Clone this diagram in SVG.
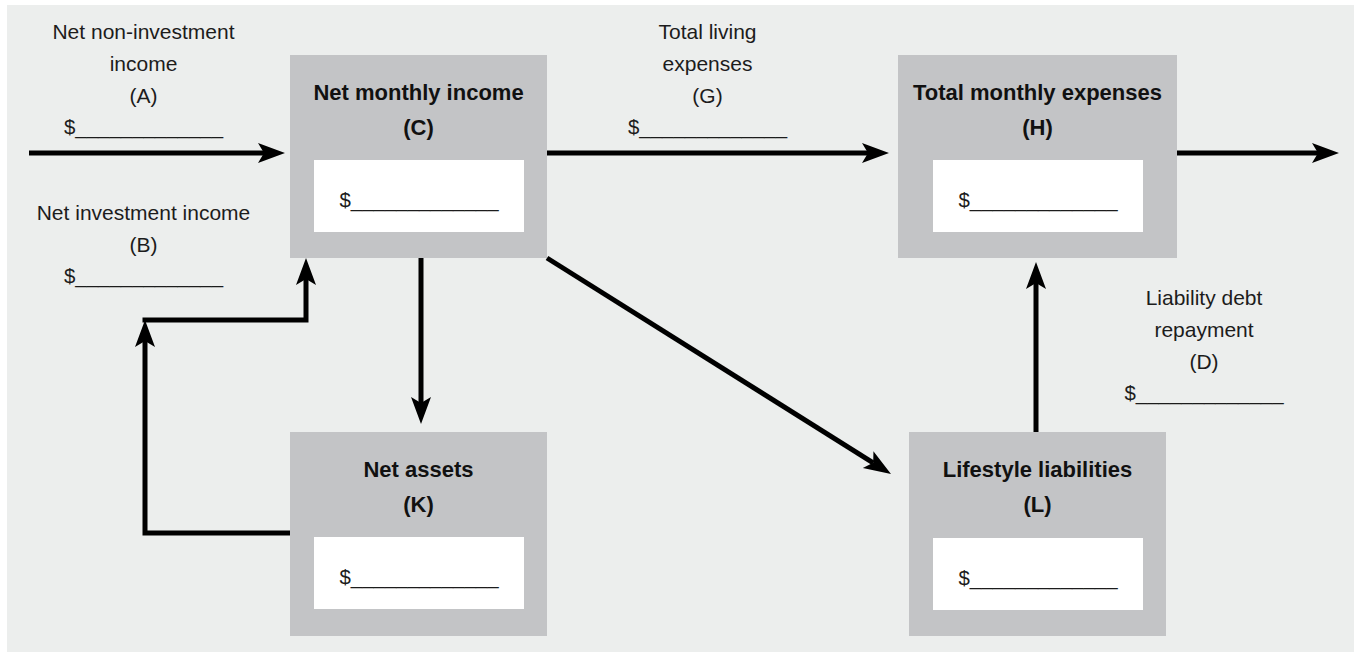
<svg xmlns="http://www.w3.org/2000/svg" width="1354" height="653" viewBox="0 0 1354 653">
<style>
.bg{fill:#ECEEED}
.box{fill:#C3C4C6}
.inner{fill:#FFFFFF}
.t{font-family:"Liberation Sans",Arial,sans-serif;font-size:21px;fill:#1c1c1c;text-anchor:middle}
.b{font-family:"Liberation Sans",Arial,sans-serif;font-size:22px;font-weight:bold;fill:#111;text-anchor:middle}
.c{fill:none;stroke:#000;stroke-width:5;stroke-linejoin:miter;stroke-linecap:butt}
</style>
<defs>
<marker id="ah" markerUnits="userSpaceOnUse" markerWidth="30" markerHeight="24" refX="6" refY="12" orient="auto" viewBox="0 0 30 24">
<path d="M0,2 L27,12 L0,22 L6,12 Z" fill="#000"/>
</marker>
</defs>
<rect class="bg" x="7" y="5" width="1347" height="647"/>

<g id="label-A">
<text class="t" x="143.5" y="39">Net non-investment</text>
<text class="t" x="143.5" y="71">income</text>
<text class="t" x="143.5" y="103">(A)</text>
<text class="t" x="143.5" y="134" textLength="159" lengthAdjust="spacingAndGlyphs">$_____________</text>
</g>
<g id="label-B">
<text class="t" x="143.5" y="220">Net investment income</text>
<text class="t" x="143.5" y="252">(B)</text>
<text class="t" x="143.5" y="283" textLength="159" lengthAdjust="spacingAndGlyphs">$_____________</text>
</g>
<g id="label-G">
<text class="t" x="707.5" y="39">Total living</text>
<text class="t" x="707.5" y="71">expenses</text>
<text class="t" x="707.5" y="103">(G)</text>
<text class="t" x="707.5" y="134" textLength="159" lengthAdjust="spacingAndGlyphs">$_____________</text>
</g>
<g id="label-D">
<text class="t" x="1204" y="305">Liability debt</text>
<text class="t" x="1204" y="337">repayment</text>
<text class="t" x="1204" y="369">(D)</text>
<text class="t" x="1204" y="400" textLength="159" lengthAdjust="spacingAndGlyphs">$_____________</text>
</g>

<g id="node-C">
<rect class="box" x="290" y="55" width="257" height="203"/>
<text class="b" x="418.5" y="100">Net monthly income</text>
<text class="b" x="418.5" y="135">(C)</text>
<rect class="inner" x="314" y="160" width="210" height="72"/>
<text class="t" x="419" y="207" textLength="159" lengthAdjust="spacingAndGlyphs">$_____________</text>
</g>
<g id="node-H">
<rect class="box" x="898" y="55" width="279" height="203"/>
<text class="b" x="1037.5" y="100">Total monthly expenses</text>
<text class="b" x="1037.5" y="135">(H)</text>
<rect class="inner" x="933" y="160" width="210" height="72"/>
<text class="t" x="1038" y="207" textLength="159" lengthAdjust="spacingAndGlyphs">$_____________</text>
</g>
<g id="node-K">
<rect class="box" x="290" y="432" width="257" height="204"/>
<text class="b" x="418.5" y="477">Net assets</text>
<text class="b" x="418.5" y="512">(K)</text>
<rect class="inner" x="314" y="537" width="210" height="72"/>
<text class="t" x="419" y="584" textLength="159" lengthAdjust="spacingAndGlyphs">$_____________</text>
</g>
<g id="node-L">
<rect class="box" x="909" y="432" width="257" height="204"/>
<text class="b" x="1037.5" y="477">Lifestyle liabilities</text>
<text class="b" x="1037.5" y="512">(L)</text>
<rect class="inner" x="933" y="538" width="210" height="72"/>
<text class="t" x="1038" y="585" textLength="159" lengthAdjust="spacingAndGlyphs">$_____________</text>
</g>

<g id="connectors">
<path class="c" d="M29,153 L264,153" marker-end="url(#ah)"/>
<path class="c" d="M547,153 L868,153" marker-end="url(#ah)"/>
<path class="c" d="M1177,153 L1318,153" marker-end="url(#ah)"/>
<path class="c" d="M421,258 L421,403" marker-end="url(#ah)"/>
<path class="c" d="M290,533 L145,533 L145,341" marker-end="url(#ah)"/>
<path class="c" d="M142.5,320 L306,320 L306,279" marker-end="url(#ah)"/>
<path class="c" d="M1036,432 L1036,283" marker-end="url(#ah)"/>
<path class="c" d="M547,258 L873.2,462.8" marker-end="url(#ah)"/>
</g>
</svg>
